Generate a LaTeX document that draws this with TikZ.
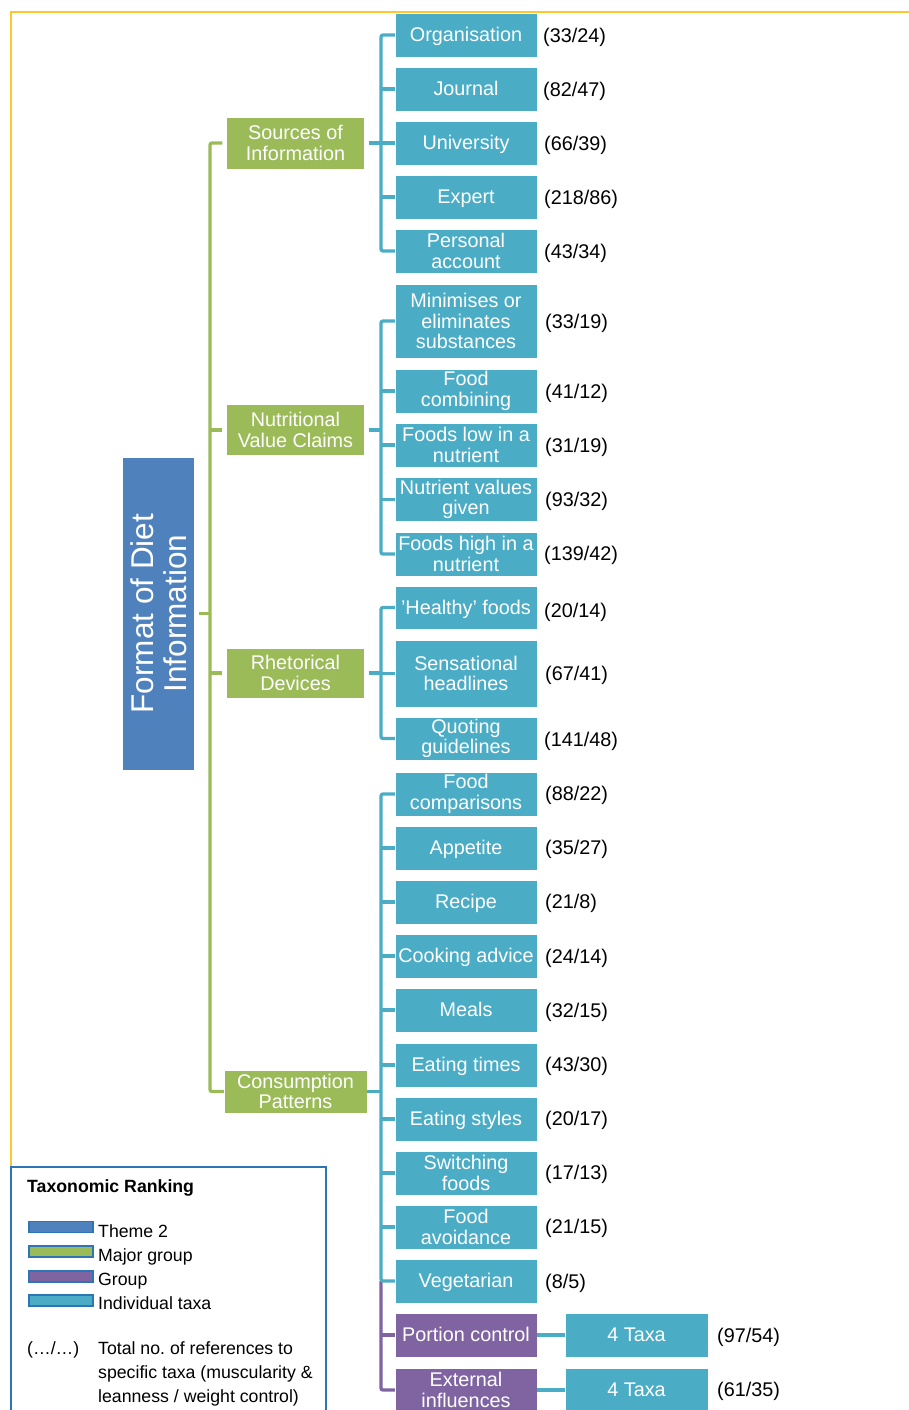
\documentclass[tikz,border=0pt]{standalone}
\usepackage{fontspec}
\setmainfont{Liberation Sans}
\definecolor{cRoot}{HTML}{4F81BD}
\definecolor{cGreen}{HTML}{9BBB59}
\definecolor{cTeal}{HTML}{4BACC6}
\definecolor{cPurple}{HTML}{8064A2}
\definecolor{cYellow}{HTML}{FFC72C}
\definecolor{cLeg}{HTML}{2E75B6}
\begin{document}
\frenchspacing
\begin{tikzpicture}[x=1pt,y=-1pt,
  box/.style={rectangle, inner sep=0pt, text=white, align=center,
    font=\fontsize{19.8}{20.5}\selectfont, draw=white, line width=0.5pt},
  sl/.style={text height=17.9pt, text depth=4.2pt},
  taxon/.style={box, fill=cTeal, minimum width=142pt, minimum height=44pt},
  major/.style={box, fill=cGreen, minimum width=138pt, minimum height=52pt},
  grp/.style={box, fill=cPurple, minimum width=142pt, minimum height=44pt},
  num/.style={anchor=west, inner sep=0pt, text height=14.2pt, text depth=0pt,
    font=\fontsize{19.8}{20.5}\selectfont, text=black},
  gline/.style={draw=cGreen, line width=3.3pt, rounded corners=2pt},
  tline/.style={draw=cTeal, line width=3.3pt, rounded corners=2pt},
  pline/.style={draw=cPurple, line width=3.3pt, rounded corners=2pt},
  swatch/.style={rectangle, inner sep=0pt, minimum width=64pt, minimum height=11pt, draw=cLeg, line width=1.2pt},
  legtext/.style={anchor=base west, inner sep=0pt, font=\fontsize{17.7}{24}\selectfont, text=black},
]
\useasboundingbox (0,0) rectangle (909,1410);

% frame lines
\draw[cYellow, line width=1.8pt] (909,12) -- (11,12) -- (11,1167);
\draw[cLeg, line width=1.5pt] (11,1414) -- (11,1167) -- (326,1167) -- (326,1414);

% root
\node[rectangle, fill=cRoot, draw=white, line width=0.5pt, minimum width=72pt, minimum height=313pt, inner sep=0pt] (root) at (158.5,613.5) {};
\node[rotate=90, text=white, align=center, inner sep=0pt, font=\fontsize{31.5}{33}\selectfont] (roottext) at (root.center) {Format of Diet\\Information};

% major groups
\node[major] (src) at (295.5,143) {Sources of\\Information};
\node[major, minimum height=51pt] (nvc) at (295.5,430) {Nutritional\\Value Claims};
\node[major, minimum height=50pt] (rhet) at (295.5,673) {Rhetorical\\Devices};
\node[major, minimum width=143pt, minimum height=43pt] (cons) at (295.5,1091.5) {Consumption\\Patterns};

% taxa: sources
\node[taxon, sl] (org) at (466,35) {Organisation};
\node[taxon, sl] (jour) at (466,89) {Journal};
\node[taxon, sl] (univ) at (466,143) {University};
\node[taxon, sl] (expert) at (466,197) {Expert};
\node[taxon] (pers) at (466,251) {Personal\\account};
% nutritional
\node[taxon, minimum height=74pt] (mini) at (466,321) {Minimises or\\eliminates\\substances};
\node[taxon] (fcomb) at (466,391) {Food\\combining};
\node[taxon] (flow) at (466,445) {Foods low in a\\nutrient};
\node[taxon] (nval) at (466,499.5) {Nutrient values\\given};
\node[taxon] (fhigh) at (466,554) {Foods high in a\\nutrient};
% rhetorical
\node[taxon, sl, minimum height=43pt] (healthy) at (466,607.5) {'Healthy' foods};
\node[taxon, minimum height=67pt] (sens) at (466,673.5) {Sensational\\headlines};
\node[taxon, minimum height=43pt] (quot) at (466,738.5) {Quoting\\guidelines};
% consumption
\node[taxon] (fcompar) at (466,794) {Food\\comparisons};
\node[taxon, sl] (appet) at (466,848) {Appetite};
\node[taxon, sl] (recipe) at (466,902) {Recipe};
\node[taxon, sl] (cook) at (466,956) {Cooking advice};
\node[taxon, sl] (meals) at (466,1010) {Meals};
\node[taxon, sl] (etimes) at (466,1065) {Eating times};
\node[taxon, sl] (estyles) at (466,1119) {Eating styles};
\node[taxon] (switch) at (466,1173) {Switching\\foods};
\node[taxon] (favoid) at (466,1227) {Food\\avoidance};
\node[taxon, sl] (veg) at (466,1281) {Vegetarian};
\node[grp, sl] (port) at (466,1335) {Portion control};
\node[grp] (ext) at (466,1390) {External\\influences};
\node[taxon, sl, minimum width=143pt] (taxa1) at (636.5,1335) {4 Taxa};
\node[taxon, sl, minimum width=143pt] (taxa2) at (636.5,1390) {4 Taxa};

% numbers
\node[num] (n1) at (543,35) {(33/24)};
\node[num] (n2) at (543,89) {(82/47)};
\node[num] (n3) at (544,143) {(66/39)};
\node[num] (n4) at (544,197) {(218/86)};
\node[num] (n5) at (544,251) {(43/34)};
\node[num] (n6) at (545,321) {(33/19)};
\node[num] (n7) at (545,391) {(41/12)};
\node[num] (n8) at (545,445) {(31/19)};
\node[num] (n9) at (545,499) {(93/32)};
\node[num] (n10) at (544,553) {(139/42)};
\node[num] (n11) at (544,610.5) {(20/14)};
\node[num] (n12) at (545,673) {(67/41)};
\node[num] (n13) at (544,739) {(141/48)};
\node[num] (n14) at (545,793) {(88/22)};
\node[num] (n15) at (545,847) {(35/27)};
\node[num] (n16) at (545,901) {(21/8)};
\node[num] (n17) at (545,956) {(24/14)};
\node[num] (n18) at (545,1010) {(32/15)};
\node[num] (n19) at (545,1064) {(43/30)};
\node[num] (n20) at (545,1118) {(20/17)};
\node[num] (n21) at (545,1172) {(17/13)};
\node[num] (n22) at (545,1226) {(21/15)};
\node[num] (n23) at (545,1281) {(8/5)};
\node[num] (n24) at (717,1335) {(97/54)};
\node[num] (n25) at (717,1389) {(61/35)};

% green connectors
\coordinate (gbus) at (210,613.5);
\draw[gline] ([xshift=-4pt]src.west) -| (gbus) |- (cons.west);
\draw[gline] ([xshift=4pt]root.east) -- (gbus);
\draw[gline] ([xshift=-4pt]nvc.west) -- (gbus |- nvc.west);
\draw[gline] ([xshift=-4pt]rhet.west) -- (gbus |- rhet.west);

% teal connectors: sources
\coordinate (tb1) at (381,143);
\draw[tline] (org.west) -| (tb1) |- (pers.west);
\draw[tline] ([xshift=4pt]src.east) -- (tb1);
\draw[tline] (jour.west) -- (tb1 |- jour.west);
\draw[tline] (univ.west) -- (tb1 |- univ.west);
\draw[tline] (expert.west) -- (tb1 |- expert.west);
% nutritional
\coordinate (tb2) at (381,430);
\draw[tline] (mini.west) -| (tb2) |- (fhigh.west);
\draw[tline] ([xshift=4pt]nvc.east) -- (tb2);
\draw[tline] (fcomb.west) -- (tb2 |- fcomb.west);
\draw[tline] (flow.west) -- (tb2 |- flow.west);
\draw[tline] (nval.west) -- (tb2 |- nval.west);
% rhetorical
\coordinate (tb3) at (381,673);
\draw[tline] (healthy.west) -| (tb3) |- (quot.west);
\draw[tline] ([xshift=4pt]rhet.east) -- (tb3);
\draw[tline] (sens.west) -- (tb3 |- sens.west);
% consumption
\coordinate (tb4) at (381,1091.5);
\draw[pline] (tb4 |- veg.west) |- (ext.west);
\draw[pline] (port.west) -- (tb4 |- port.west);
\draw[tline] (fcompar.west) -| (tb4) |- (veg.west);
\draw[tline] (cons.east) -- (tb4);
\foreach \n in {appet,recipe,cook,meals,etimes,estyles,switch,favoid}
  \draw[tline] (\n.west) -- (tb4 |- \n.west);
\draw[tline] (port.east) -- (taxa1.west);
\draw[tline] (ext.east) -- (taxa2.west);

% legend
\node[anchor=base west, inner sep=0pt, font=\bfseries\fontsize{17.7}{24}\selectfont] (legtitle) at (27,1192.5) {Taxonomic Ranking};
\node[swatch, fill=cRoot] (sw1) at (61,1227) {};
\node[swatch, fill=cGreen] (sw2) at (61,1251.5) {};
\node[swatch, fill=cPurple] (sw3) at (61,1276.5) {};
\node[swatch, fill=cTeal] (sw4) at (61,1300.5) {};
\node[legtext] (lt1) at (98,1237) {Theme 2};
\node[legtext] (lt2) at (98,1261.5) {Major group};
\node[legtext] (lt3) at (98,1285.5) {Group};
\node[legtext] (lt4) at (98,1309) {Individual taxa};
\node[legtext] (ldots) at (27,1354) {(…/…)};
\node[legtext] (ld1) at (98,1354) {Total no. of references to};
\node[legtext] (ld2) at (98,1378) {specific taxa (muscularity \&};
\node[legtext] (ld3) at (98,1402) {leanness / weight control)};
\end{tikzpicture}
\end{document}
